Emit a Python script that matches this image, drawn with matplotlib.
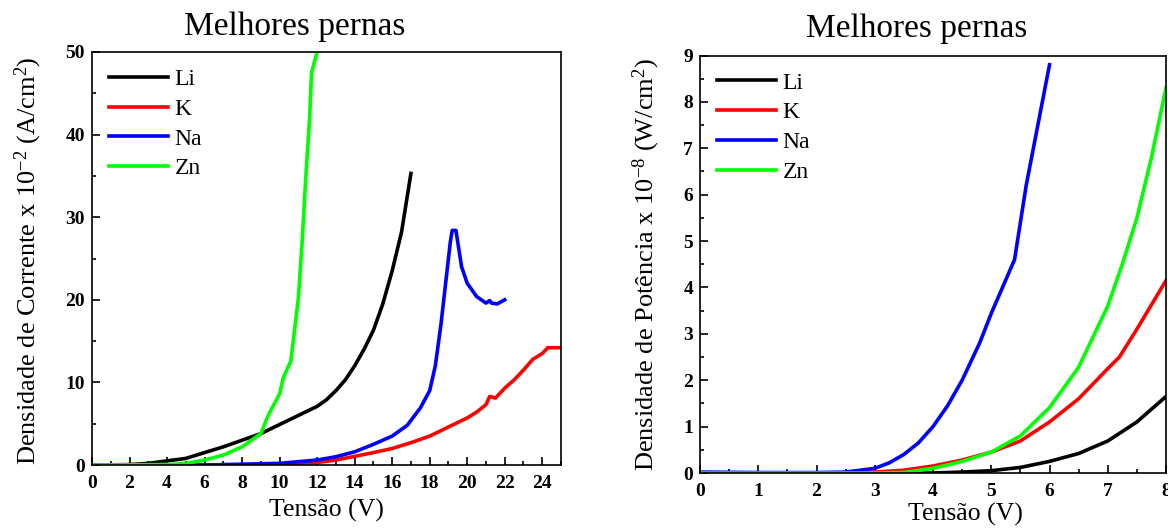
import matplotlib
matplotlib.use('Agg')
import matplotlib.pyplot as plt
from matplotlib.ticker import MultipleLocator

plt.rcParams['font.family'] = ['Liberation Serif', 'DejaVu Serif']
plt.rcParams['mathtext.fontset'] = 'custom'
plt.rcParams['mathtext.rm'] = 'Liberation Serif'
plt.rcParams['mathtext.it'] = 'Liberation Serif:italic'

# corrente (x10^-2 A/cm2) vs tensao (V)
li_v = [0, 2, 3, 4, 5, 6, 7, 8, 9, 10, 11, 12, 12.5, 13, 13.5, 14, 14.5, 15, 15.5, 16, 16.5, 17]
li_j = [0, 0.05, 0.2, 0.5, 0.8, 1.5, 2.2, 3.0, 3.8, 4.9, 6.0, 7.1, 7.9, 9.0, 10.3, 12.0, 14.0, 16.3, 19.5, 23.5, 28.2, 35.3]

k_v = [0, 8, 10, 12, 13, 14, 15, 16, 17, 18, 19, 20, 20.5, 21, 21.2, 21.5, 22, 22.5, 23, 23.5, 24, 24.3, 25]
k_j = [0, 0, 0.1, 0.3, 0.6, 1.05, 1.5, 2.0, 2.7, 3.5, 4.6, 5.7, 6.4, 7.3, 8.3, 8.1, 9.3, 10.3, 11.5, 12.8, 13.5, 14.2, 14.2]

na_v = [0, 6, 8, 10, 12, 13, 14, 15, 16, 16.8, 17.5, 18, 18.3, 18.6, 18.9, 19.1, 19.2, 19.4, 19.7, 20, 20.5, 21,
        21.2, 21.3, 21.6, 22]
na_j = [0, 0, 0.1, 0.2, 0.6, 1.0, 1.6, 2.5, 3.5, 4.8, 6.9, 9.0, 12.0, 17.0, 23.0, 27.0, 28.4, 28.4, 24.0, 22.0,
        20.4, 19.6, 19.9, 19.6, 19.5, 20.0]

zn_v = [0, 4, 5, 6, 7, 8, 8.5, 9, 9.3, 9.5, 10, 10.2, 10.6, 10.7, 11, 11.2, 11.4, 11.6, 11.7, 12]
zn_j = [0, 0.05, 0.2, 0.6, 1.2, 2.2, 3.0, 3.8, 5.5, 6.5, 8.6, 10.6, 12.6, 14.5, 20.2, 27.0, 35.0, 42.0, 47.5, 50.0]

# potencia (x10^-8 W/cm2) vs tensao (V)
li_pv = [0, 4, 4.5, 5, 5.5, 6, 6.5, 7, 7.5, 8]
li_p = [0, 0, 0.02, 0.05, 0.12, 0.25, 0.42, 0.69, 1.1, 1.65]

k_pv = [0, 2.5, 3, 3.5, 4, 4.5, 5, 5.5, 6, 6.5, 7, 7.2, 7.5, 8]
k_p = [0, 0, 0.02, 0.06, 0.15, 0.28, 0.45, 0.69, 1.1, 1.6, 2.25, 2.5, 3.1, 4.15]

na_pv = [0, 1, 2, 2.5, 3, 3.25, 3.5, 3.75, 4, 4.25, 4.5, 4.8, 5, 5.4, 5.6, 6]
na_p = [0.02, 0.01, 0.01, 0.02, 0.1, 0.22, 0.4, 0.65, 1.0, 1.45, 2.0, 2.8, 3.44, 4.6, 6.2, 8.8]

zn_pv = [0, 3, 3.5, 4, 4.5, 5, 5.5, 6, 6.5, 7, 7.25, 7.5, 7.75, 8]
zn_p = [0, 0, 0.01, 0.1, 0.25, 0.45, 0.8, 1.41, 2.28, 3.6, 4.5, 5.5, 6.8, 8.3]

labels = ['Li', 'K', 'Na', 'Zn']
colors = ['black', '#ff0000', '#0000ff', '#00ff00']

fig = plt.figure(figsize=(11.68, 5.28), dpi=100)
ax1 = fig.add_axes([92/1168, 1-465/528, 469/1168, 413/528])
ax2 = fig.add_axes([700/1168, 1-473/528, 466/1168, 417.5/528])

left = [(li_v, li_j), (k_v, k_j), (na_v, na_j), (zn_v, zn_j)]
right = [(li_pv, li_p), (k_pv, k_p), (na_pv, na_p), (zn_pv, zn_p)]

for (x, y), lab, c in zip(left, labels, colors):
    ax1.plot(x, y, color=c, lw=2.6, label=lab)
for (x, y), lab, c in zip(right, labels, colors):
    ax2.plot(x, y, color=c, lw=2.6, label=lab)

ax1.set_xlim(0, 25)
ax1.set_ylim(0, 50)
ax1.xaxis.set_major_locator(MultipleLocator(2))
ax1.xaxis.set_minor_locator(MultipleLocator(1))
ax1.yaxis.set_major_locator(MultipleLocator(10))
ax1.yaxis.set_minor_locator(MultipleLocator(5))

ax2.set_xlim(0, 8)
ax2.set_ylim(0, 9)
ax2.xaxis.set_major_locator(MultipleLocator(1))
ax2.xaxis.set_minor_locator(MultipleLocator(0.5))
ax2.yaxis.set_major_locator(MultipleLocator(1))
ax2.yaxis.set_minor_locator(MultipleLocator(0.5))

for ax in (ax1, ax2):
    ax.tick_params(which='both', direction='in', top=False, right=False, width=1.2)
    ax.tick_params(which='major', length=6, labelsize=14, pad=5)
    ax.tick_params(axis='x', which='major', pad=7)
    ax.tick_params(which='minor', length=3)
    for lbl in ax.get_xticklabels() + ax.get_yticklabels():
        lbl.set_fontweight('bold')
    for s in ax.spines.values():
        s.set_linewidth(1.2)
    ax.legend(loc='upper left', frameon=False, fontsize=17, handlelength=2.5,
              handletextpad=0.3, labelspacing=0.35, borderaxespad=0.3)

ax1.text(0.433, 1.06, 'Melhores pernas', transform=ax1.transAxes, ha='center', va='center', fontsize=24)
ax2.text(0.464, 1.064, 'Melhores pernas', transform=ax2.transAxes, ha='center', va='center', fontsize=24)

ax1.text(0.5, -0.109, 'Tensão (V)', transform=ax1.transAxes, ha='center', va='center', fontsize=18.5)
ax2.text(0.569, -0.10, 'Tensão (V)', transform=ax2.transAxes, ha='center', va='center', fontsize=18.5)

ax1.text(-0.136, 0.494, 'Densidade de Corrente x 10$^{\\mathregular{-2}}$ (A/cm$^{\\mathregular{2}}$)',
         transform=ax1.transAxes, rotation=90, ha='center', va='center', fontsize=19)
ax2.text(-0.116, 0.5, 'Densidade de Potência x 10$^{\\mathregular{-8}}$ (W/cm$^{\\mathregular{2}}$)',
         transform=ax2.transAxes, rotation=90, ha='center', va='center', fontsize=19)

fig.savefig('out.png', dpi=100)
